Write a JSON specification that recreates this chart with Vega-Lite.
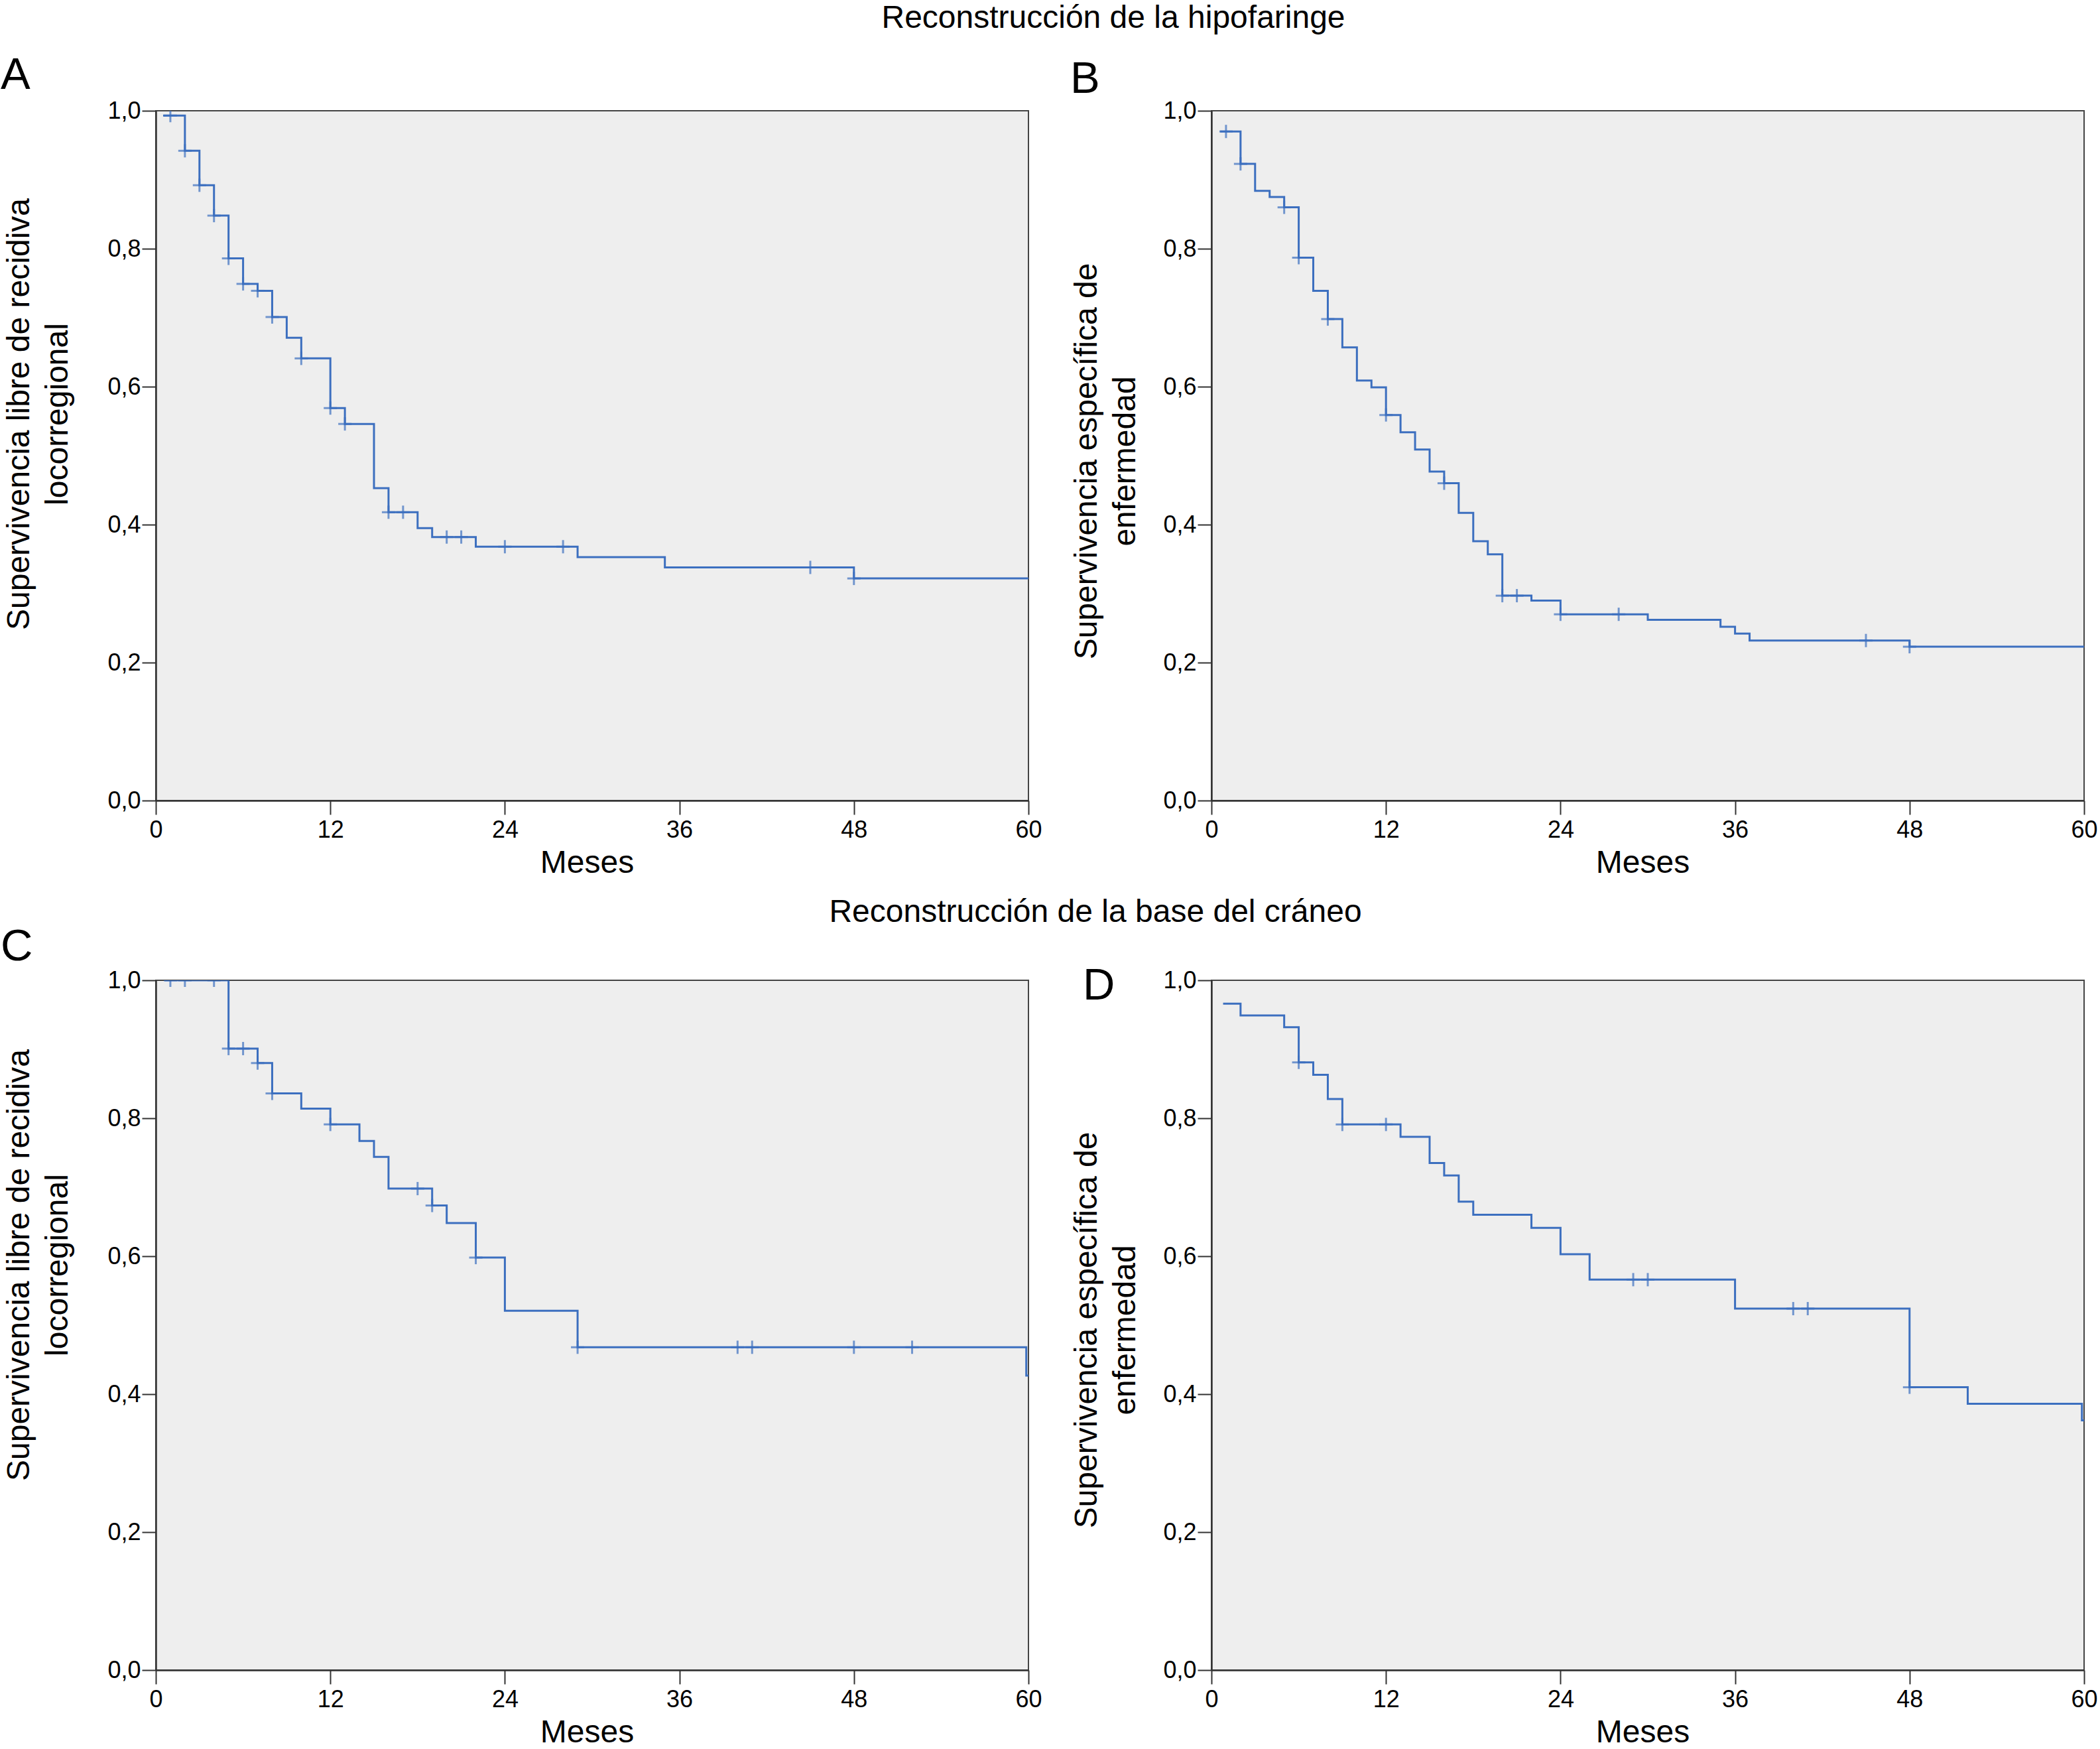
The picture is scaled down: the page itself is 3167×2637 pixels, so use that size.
{
  "$schema": "https://vega.github.io/schema/vega-lite/v6.json",
  "background": "white",
  "padding": {"left": 0, "top": 4, "right": 0, "bottom": 0},
  "autosize": {"type": "pad"},
  "config": {
    "locale": {"number": {"decimal": ",", "thousands": ".", "grouping": [3], "currency": ["", " €"]}},
    "font": "Liberation Sans",
    "view": {"fill": "#eeeeee", "stroke": "#444444", "strokeWidth": 2},
    "title": {"font": "Liberation Sans", "fontWeight": "normal", "color": "black"},
    "axis": {"labelFont": "Liberation Sans", "titleFont": "Liberation Sans", "labelColor": "black", "titleColor": "black", "titleFontWeight": "normal", "grid": false, "domainColor": "#333333", "domainWidth": 2.5, "tickColor": "#333333", "tickWidth": 2, "labelFontSize": 36, "tickSize": 21, "labelOverlap": false, "labelFlush": false}
  },
  "datasets": {
    "steps": [
      {"p": "A", "t": 0.5, "s": 0.993}, {"p": "A", "t": 2, "s": 0.942}, {"p": "A", "t": 3, "s": 0.892}, {"p": "A", "t": 4, "s": 0.848}, {"p": "A", "t": 5, "s": 0.786}, {"p": "A", "t": 6, "s": 0.749}, {"p": "A", "t": 7, "s": 0.739}, {"p": "A", "t": 8, "s": 0.701}, {"p": "A", "t": 9, "s": 0.671}, {"p": "A", "t": 10, "s": 0.641}, {"p": "A", "t": 12, "s": 0.569}, {"p": "A", "t": 13, "s": 0.546}, {"p": "A", "t": 15, "s": 0.453}, {"p": "A", "t": 16, "s": 0.418}, {"p": "A", "t": 18, "s": 0.395}, {"p": "A", "t": 19, "s": 0.382}, {"p": "A", "t": 22, "s": 0.368}, {"p": "A", "t": 29, "s": 0.353}, {"p": "A", "t": 35, "s": 0.338}, {"p": "A", "t": 48, "s": 0.322}, {"p": "A", "t": 60, "s": 0.322},
      {"p": "B", "t": 0.6, "s": 0.970}, {"p": "B", "t": 2, "s": 0.923}, {"p": "B", "t": 3, "s": 0.884}, {"p": "B", "t": 4, "s": 0.875}, {"p": "B", "t": 5, "s": 0.860}, {"p": "B", "t": 6, "s": 0.787}, {"p": "B", "t": 7, "s": 0.739}, {"p": "B", "t": 8, "s": 0.698}, {"p": "B", "t": 9, "s": 0.657}, {"p": "B", "t": 10, "s": 0.609}, {"p": "B", "t": 11, "s": 0.599}, {"p": "B", "t": 12, "s": 0.559}, {"p": "B", "t": 13, "s": 0.534}, {"p": "B", "t": 14, "s": 0.509}, {"p": "B", "t": 15, "s": 0.477}, {"p": "B", "t": 16, "s": 0.460}, {"p": "B", "t": 17, "s": 0.417}, {"p": "B", "t": 18, "s": 0.376}, {"p": "B", "t": 19, "s": 0.357}, {"p": "B", "t": 20, "s": 0.297}, {"p": "B", "t": 22, "s": 0.290}, {"p": "B", "t": 24, "s": 0.270}, {"p": "B", "t": 30, "s": 0.262}, {"p": "B", "t": 35, "s": 0.252}, {"p": "B", "t": 36, "s": 0.242}, {"p": "B", "t": 37, "s": 0.232}, {"p": "B", "t": 48, "s": 0.223}, {"p": "B", "t": 60, "s": 0.223},
      {"p": "C", "t": 0.6, "s": 1.0}, {"p": "C", "t": 5, "s": 0.901}, {"p": "C", "t": 7, "s": 0.880}, {"p": "C", "t": 8, "s": 0.836}, {"p": "C", "t": 10, "s": 0.814}, {"p": "C", "t": 12, "s": 0.791}, {"p": "C", "t": 14, "s": 0.767}, {"p": "C", "t": 15, "s": 0.744}, {"p": "C", "t": 16, "s": 0.698}, {"p": "C", "t": 19, "s": 0.6735}, {"p": "C", "t": 20, "s": 0.648}, {"p": "C", "t": 22, "s": 0.598}, {"p": "C", "t": 24, "s": 0.521}, {"p": "C", "t": 29, "s": 0.468}, {"p": "C", "t": 59.85, "s": 0.427}, {"p": "C", "t": 60, "s": 0.427},
      {"p": "D", "t": 0.8, "s": 0.966}, {"p": "D", "t": 2, "s": 0.949}, {"p": "D", "t": 5, "s": 0.932}, {"p": "D", "t": 6, "s": 0.881}, {"p": "D", "t": 7, "s": 0.863}, {"p": "D", "t": 8, "s": 0.828}, {"p": "D", "t": 9, "s": 0.791}, {"p": "D", "t": 13, "s": 0.773}, {"p": "D", "t": 15, "s": 0.735}, {"p": "D", "t": 16, "s": 0.717}, {"p": "D", "t": 17, "s": 0.679}, {"p": "D", "t": 18, "s": 0.660}, {"p": "D", "t": 22, "s": 0.641}, {"p": "D", "t": 24, "s": 0.603}, {"p": "D", "t": 26, "s": 0.566}, {"p": "D", "t": 36, "s": 0.524}, {"p": "D", "t": 48, "s": 0.410}, {"p": "D", "t": 52, "s": 0.386}, {"p": "D", "t": 59.85, "s": 0.362}, {"p": "D", "t": 60, "s": 0.362}
    ],
    "cens": [
      {"p": "A", "t": 1, "s": 0.993}, {"p": "A", "t": 2, "s": 0.942}, {"p": "A", "t": 3, "s": 0.892}, {"p": "A", "t": 4, "s": 0.848}, {"p": "A", "t": 5, "s": 0.786}, {"p": "A", "t": 6, "s": 0.749}, {"p": "A", "t": 7, "s": 0.739}, {"p": "A", "t": 8, "s": 0.701}, {"p": "A", "t": 10, "s": 0.641}, {"p": "A", "t": 12, "s": 0.569}, {"p": "A", "t": 13, "s": 0.546}, {"p": "A", "t": 16, "s": 0.418}, {"p": "A", "t": 17, "s": 0.418}, {"p": "A", "t": 20, "s": 0.382}, {"p": "A", "t": 21, "s": 0.382}, {"p": "A", "t": 24, "s": 0.368}, {"p": "A", "t": 28, "s": 0.368}, {"p": "A", "t": 45, "s": 0.338}, {"p": "A", "t": 48, "s": 0.322},
      {"p": "B", "t": 1, "s": 0.970}, {"p": "B", "t": 2, "s": 0.923}, {"p": "B", "t": 5, "s": 0.860}, {"p": "B", "t": 6, "s": 0.787}, {"p": "B", "t": 8, "s": 0.698}, {"p": "B", "t": 12, "s": 0.559}, {"p": "B", "t": 16, "s": 0.460}, {"p": "B", "t": 20, "s": 0.297}, {"p": "B", "t": 21, "s": 0.297}, {"p": "B", "t": 24, "s": 0.270}, {"p": "B", "t": 28, "s": 0.270}, {"p": "B", "t": 45, "s": 0.232}, {"p": "B", "t": 48, "s": 0.223},
      {"p": "C", "t": 1, "s": 1.0}, {"p": "C", "t": 2, "s": 1.0}, {"p": "C", "t": 4, "s": 1.0}, {"p": "C", "t": 5, "s": 0.901}, {"p": "C", "t": 6, "s": 0.901}, {"p": "C", "t": 7, "s": 0.880}, {"p": "C", "t": 8, "s": 0.836}, {"p": "C", "t": 12, "s": 0.791}, {"p": "C", "t": 18, "s": 0.698}, {"p": "C", "t": 19, "s": 0.6735}, {"p": "C", "t": 22, "s": 0.598}, {"p": "C", "t": 29, "s": 0.468}, {"p": "C", "t": 40, "s": 0.468}, {"p": "C", "t": 41, "s": 0.468}, {"p": "C", "t": 48, "s": 0.468}, {"p": "C", "t": 52, "s": 0.468},
      {"p": "D", "t": 6, "s": 0.881}, {"p": "D", "t": 9, "s": 0.791}, {"p": "D", "t": 12, "s": 0.791}, {"p": "D", "t": 29, "s": 0.566}, {"p": "D", "t": 30, "s": 0.566}, {"p": "D", "t": 40, "s": 0.524}, {"p": "D", "t": 41, "s": 0.524}, {"p": "D", "t": 48, "s": 0.410}
    ]
  },
  "vconcat": [
    {
      "title": {"text": "Reconstrucción de la hipofaringe", "anchor": "middle", "frame": "bounds", "fontSize": 48, "baseline": "alphabetic", "offset": 0, "dx": 97, "dy": 11},
      "bounds": "flush",
      "spacing": 276,
      "hconcat": [
        {
          "width": 1316, "height": 1040,
          "title": {"text": "A", "anchor": "start", "frame": "group", "fontSize": 67, "baseline": "alphabetic", "offset": 0, "dx": -234, "dy": 52},
          "layer": [
            {"data": {"name": "steps"}, "transform": [{"filter": "datum.p === 'A'"}],
             "mark": {"type": "line", "interpolate": "step-after", "color": "#3c6fbf", "strokeWidth": 3, "clip": true},
             "encoding": {
               "x": {"field": "t", "type": "quantitative", "scale": {"domain": [0, 60]}, "axis": {"values": [0, 12, 24, 36, 48, 60], "title": "Meses", "labelPadding": 6, "titleFontSize": 48, "titleBaseline": "alphabetic", "titleX": 650, "titleY": 108}},
               "y": {"field": "s", "type": "quantitative", "scale": {"domain": [0, 1]}, "axis": {"values": [0, 0.2, 0.4, 0.6, 0.8, 1], "format": ".1f", "title": ["Supervivencia libre de recidiva", "locorregional"], "titleFontSize": 48, "titleLineHeight": 58, "titleBaseline": "alphabetic", "titleX": -192, "titleY": 457, "labelPadding": 2}}
             }},
            {"data": {"name": "cens"}, "transform": [{"filter": "datum.p === 'A'"}],
             "mark": {"type": "tick", "orient": "vertical", "size": 20, "thickness": 3, "color": "#3c6fbf", "clip": true},
             "encoding": {"x": {"field": "t", "type": "quantitative"}, "y": {"field": "s", "type": "quantitative"}}},
            {"data": {"name": "cens"}, "transform": [{"filter": "datum.p === 'A'"}],
             "mark": {"type": "tick", "orient": "horizontal", "size": 20, "thickness": 3, "color": "#3c6fbf", "clip": true},
             "encoding": {"x": {"field": "t", "type": "quantitative"}, "y": {"field": "s", "type": "quantitative"}}}
          ]
        },
        {
          "width": 1316, "height": 1040,
          "title": {"text": "B", "anchor": "start", "frame": "group", "fontSize": 67, "baseline": "alphabetic", "offset": 0, "dx": -213, "dy": 58},
          "layer": [
            {"data": {"name": "steps"}, "transform": [{"filter": "datum.p === 'B'"}],
             "mark": {"type": "line", "interpolate": "step-after", "color": "#3c6fbf", "strokeWidth": 3, "clip": true},
             "encoding": {
               "x": {"field": "t", "type": "quantitative", "scale": {"domain": [0, 60]}, "axis": {"values": [0, 12, 24, 36, 48, 60], "title": "Meses", "labelPadding": 6, "titleFontSize": 48, "titleBaseline": "alphabetic", "titleX": 650, "titleY": 108}},
               "y": {"field": "s", "type": "quantitative", "scale": {"domain": [0, 1]}, "axis": {"values": [0, 0.2, 0.4, 0.6, 0.8, 1], "format": ".1f", "title": ["Supervivencia específica de", "enfermedad"], "titleFontSize": 48, "titleLineHeight": 58, "titleBaseline": "alphabetic", "titleX": -174, "titleY": 528, "labelPadding": 2}}
             }},
            {"data": {"name": "cens"}, "transform": [{"filter": "datum.p === 'B'"}],
             "mark": {"type": "tick", "orient": "vertical", "size": 20, "thickness": 3, "color": "#3c6fbf", "clip": true},
             "encoding": {"x": {"field": "t", "type": "quantitative"}, "y": {"field": "s", "type": "quantitative"}}},
            {"data": {"name": "cens"}, "transform": [{"filter": "datum.p === 'B'"}],
             "mark": {"type": "tick", "orient": "horizontal", "size": 20, "thickness": 3, "color": "#3c6fbf", "clip": true},
             "encoding": {"x": {"field": "t", "type": "quantitative"}, "y": {"field": "s", "type": "quantitative"}}}
          ]
        }
      ]
    },
    {
      "title": {"text": "Reconstrucción de la base del cráneo", "anchor": "middle", "frame": "bounds", "fontSize": 48, "baseline": "alphabetic", "offset": 0, "dx": 70, "dy": 45},
      "bounds": "flush",
      "spacing": 276,
      "hconcat": [
        {
          "width": 1316, "height": 1040,
          "title": {"text": "C", "anchor": "start", "frame": "group", "fontSize": 67, "baseline": "alphabetic", "offset": 0, "dx": -234, "dy": 55},
          "layer": [
            {"data": {"name": "steps"}, "transform": [{"filter": "datum.p === 'C'"}],
             "mark": {"type": "line", "interpolate": "step-after", "color": "#3c6fbf", "strokeWidth": 3, "clip": true},
             "encoding": {
               "x": {"field": "t", "type": "quantitative", "scale": {"domain": [0, 60]}, "axis": {"values": [0, 12, 24, 36, 48, 60], "title": "Meses", "labelPadding": 6, "titleFontSize": 48, "titleBaseline": "alphabetic", "titleX": 650, "titleY": 108}},
               "y": {"field": "s", "type": "quantitative", "scale": {"domain": [0, 1]}, "axis": {"values": [0, 0.2, 0.4, 0.6, 0.8, 1], "format": ".1f", "title": ["Supervivencia libre de recidiva", "locorregional"], "titleFontSize": 48, "titleLineHeight": 58, "titleBaseline": "alphabetic", "titleX": -192, "titleY": 429, "labelPadding": 2}}
             }},
            {"data": {"name": "cens"}, "transform": [{"filter": "datum.p === 'C'"}],
             "mark": {"type": "tick", "orient": "vertical", "size": 20, "thickness": 3, "color": "#3c6fbf", "clip": true},
             "encoding": {"x": {"field": "t", "type": "quantitative"}, "y": {"field": "s", "type": "quantitative"}}},
            {"data": {"name": "cens"}, "transform": [{"filter": "datum.p === 'C'"}],
             "mark": {"type": "tick", "orient": "horizontal", "size": 20, "thickness": 3, "color": "#3c6fbf", "clip": true},
             "encoding": {"x": {"field": "t", "type": "quantitative"}, "y": {"field": "s", "type": "quantitative"}}}
          ]
        },
        {
          "width": 1316, "height": 1040,
          "title": {"text": "D", "anchor": "start", "frame": "group", "fontSize": 67, "baseline": "alphabetic", "offset": 0, "dx": -194, "dy": 114},
          "layer": [
            {"data": {"name": "steps"}, "transform": [{"filter": "datum.p === 'D'"}],
             "mark": {"type": "line", "interpolate": "step-after", "color": "#3c6fbf", "strokeWidth": 3, "clip": true},
             "encoding": {
               "x": {"field": "t", "type": "quantitative", "scale": {"domain": [0, 60]}, "axis": {"values": [0, 12, 24, 36, 48, 60], "title": "Meses", "labelPadding": 6, "titleFontSize": 48, "titleBaseline": "alphabetic", "titleX": 650, "titleY": 108}},
               "y": {"field": "s", "type": "quantitative", "scale": {"domain": [0, 1]}, "axis": {"values": [0, 0.2, 0.4, 0.6, 0.8, 1], "format": ".1f", "title": ["Supervivencia específica de", "enfermedad"], "titleFontSize": 48, "titleLineHeight": 58, "titleBaseline": "alphabetic", "titleX": -174, "titleY": 527, "labelPadding": 2}}
             }},
            {"data": {"name": "cens"}, "transform": [{"filter": "datum.p === 'D'"}],
             "mark": {"type": "tick", "orient": "vertical", "size": 20, "thickness": 3, "color": "#3c6fbf", "clip": true},
             "encoding": {"x": {"field": "t", "type": "quantitative"}, "y": {"field": "s", "type": "quantitative"}}},
            {"data": {"name": "cens"}, "transform": [{"filter": "datum.p === 'D'"}],
             "mark": {"type": "tick", "orient": "horizontal", "size": 20, "thickness": 3, "color": "#3c6fbf", "clip": true},
             "encoding": {"x": {"field": "t", "type": "quantitative"}, "y": {"field": "s", "type": "quantitative"}}}
          ]
        }
      ]
    }
  ],
  "spacing": 26,
  "bounds": "full"
}
